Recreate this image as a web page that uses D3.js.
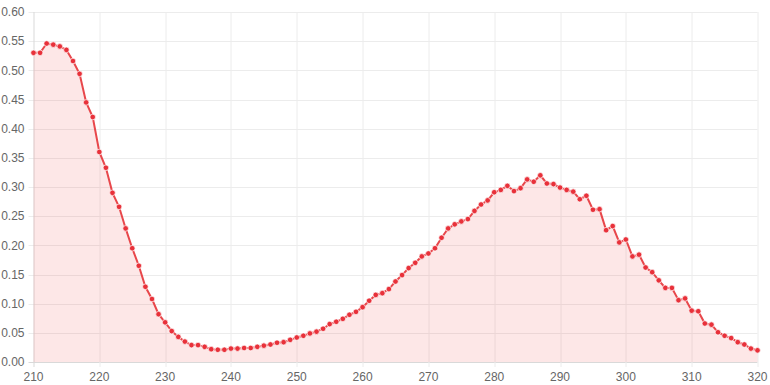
<!DOCTYPE html>
<html>
<head>
<meta charset="utf-8">
<script src="https://cdn.jsdelivr.net/npm/d3@7"></script>
<style>
body { margin: 0; background: #fff; }
svg { display: block; font-family: "Liberation Sans", Arial, sans-serif; }
</style>
</head>
<body>
<svg id="chart"></svg>
<script>
// wavelength (x) and absorbance (y)
var wavelengths = d3.range(210, 321)
var absorbance = [
 0.530, 0.530, 0.546, 0.544, 0.541, 0.535, 0.516, 0.494, 0.445, 0.420,
 0.360, 0.333, 0.290, 0.266, 0.229, 0.195, 0.165, 0.129, 0.108, 0.082,
 0.068, 0.053, 0.043, 0.035, 0.029, 0.029, 0.026, 0.022, 0.021, 0.021,
 0.023, 0.023, 0.024, 0.024, 0.026, 0.028, 0.030, 0.033, 0.034, 0.038,
 0.042, 0.045, 0.049, 0.052, 0.057, 0.065, 0.069, 0.074, 0.081, 0.086,
 0.094, 0.105, 0.115, 0.118, 0.125, 0.138, 0.149, 0.161, 0.170, 0.181,
 0.186, 0.195, 0.213, 0.229, 0.236, 0.241, 0.245, 0.259, 0.270, 0.277,
 0.291, 0.295, 0.302, 0.293, 0.298, 0.313, 0.309, 0.320, 0.306, 0.305,
 0.299, 0.295, 0.292, 0.279, 0.285, 0.261, 0.262, 0.226, 0.233, 0.205,
 0.210, 0.181, 0.184, 0.162, 0.154, 0.140, 0.127, 0.127, 0.106, 0.109,
 0.088, 0.087, 0.066, 0.064, 0.051, 0.045, 0.041, 0.034, 0.030, 0.023,
 0.020
]
var xTicks = [210, 220, 230, 240, 250, 260, 270, 280, 290, 300, 310, 320]
var yTicks = [0, 0.05, 0.10, 0.15, 0.20, 0.25, 0.30, 0.35, 0.40, 0.45, 0.50, 0.55, 0.60]

var data = wavelengths.map(function(w, i) { return {x: w, y: absorbance[i]} })

var screen = {width: 770, height: 385}
var margins = {left: 33.5, right: 12.5, top: 12, bottom: 23}
var graph = {
	width: screen.width - margins.left - margins.right,
	height: screen.height - margins.top - margins.bottom
}

var svg = d3.select("#chart")
	.attr("width", screen.width)
	.attr("height", screen.height)

var xScale = d3.scaleLinear().domain([210, 320]).range([0, graph.width])
var yScale = d3.scaleLinear().domain([0, 0.6]).range([graph.height, 0])

var target = svg.append("g")
	.attr("transform", "translate(" + margins.left + "," + margins.top + ")")

//-------gridlines-------
target.append("g")
	.selectAll("line")
	.data(yTicks)
	.enter()
	.append("line")
	.attr("x1", -5).attr("x2", graph.width)
	.attr("y1", function(d) { return Math.round(yScale(d)) + 0.5 })
	.attr("y2", function(d) { return Math.round(yScale(d)) + 0.5 })
	.attr("stroke", function(d) { return d == 0 ? "#d9d9d9" : "#ececec" })

target.append("g")
	.selectAll("line")
	.data(xTicks)
	.enter()
	.append("line")
	.attr("y1", 0).attr("y2", graph.height + 5)
	.attr("x1", function(d) { return Math.round(xScale(d)) + 0.5 })
	.attr("x2", function(d) { return Math.round(xScale(d)) + 0.5 })
	.attr("stroke", function(d) { return d == 210 ? "#d9d9d9" : "#ececec" })

//-------labels-------
target.append("g")
	.selectAll("text")
	.data(yTicks)
	.enter()
	.append("text")
	.attr("x", -9)
	.attr("y", function(d) { return yScale(d) })
	.attr("dy", "0.35em")
	.attr("text-anchor", "end")
	.attr("font-size", 12)
	.attr("fill", "#666")
	.text(function(d) { return d3.format(".2f")(d) })

target.append("g")
	.selectAll("text")
	.data(xTicks)
	.enter()
	.append("text")
	.attr("x", function(d) { return xScale(d) })
	.attr("y", graph.height + 19)
	.attr("text-anchor", "middle")
	.attr("font-size", 12)
	.attr("fill", "#666")
	.text(function(d) { return d })

//-------area + line + points-------
var area = d3.area()
	.x(function(d) { return xScale(d.x) })
	.y0(graph.height)
	.y1(function(d) { return yScale(d.y) })

var line = d3.line()
	.x(function(d) { return xScale(d.x) })
	.y(function(d) { return yScale(d.y) })

target.append("path")
	.datum(data)
	.attr("d", area)
	.attr("fill", "rgba(235, 54, 54, 0.12)")

target.append("path")
	.datum(data)
	.attr("d", line)
	.attr("fill", "none")
	.attr("stroke", "#e8474b")
	.attr("stroke-width", 2)

target.append("g")
	.selectAll("circle")
	.data(data)
	.enter()
	.append("circle")
	.attr("cx", function(d) { return xScale(d.x) })
	.attr("cy", function(d) { return yScale(d.y) })
	.attr("r", 2.8)
	.attr("fill", "#e8313a")
	.attr("stroke", "rgba(255,255,255,0.7)")
	.attr("stroke-width", 1)
</script>
</body>
</html>
